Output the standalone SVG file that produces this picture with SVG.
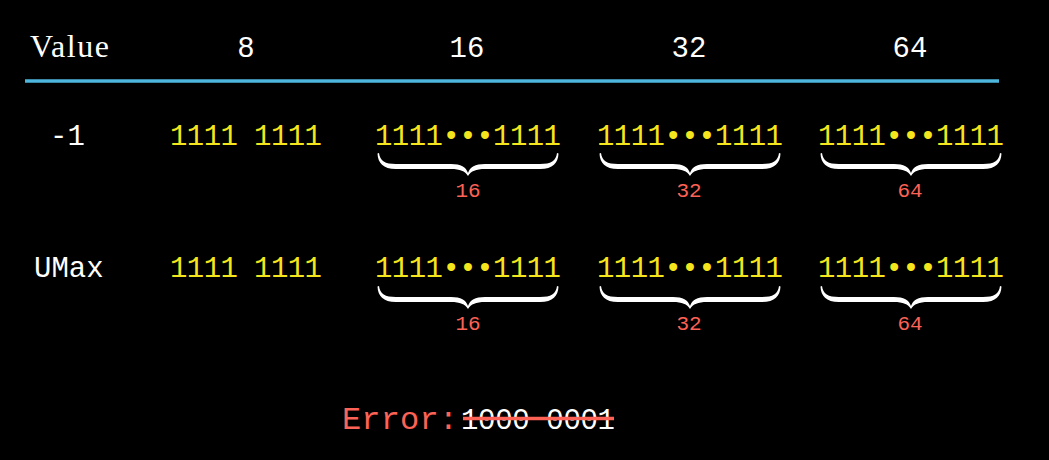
<svg xmlns="http://www.w3.org/2000/svg" xmlns:xlink="http://www.w3.org/1999/xlink" width="1049" height="460" viewBox="0 0 1049 460">
  <style>
    .serif { font-family: "Liberation Serif", "Times New Roman", serif; fill: #ffffff; }
    .mono { font-family: "Liberation Mono", "Courier New", monospace; }
    .head { font-size: 29px; fill: #ffffff; text-anchor: middle; }
    .label { font-size: 29px; fill: #ffffff; }
    .bits { font-size: 29px; fill: #f4e51c; text-anchor: middle; }
    .count { font-size: 21px; fill: #fc6255; text-anchor: middle; }
    .brace { fill: #ffffff; }
  </style>
  <defs>
    <path id="brace" d="M -89,0 C -88,8 -83,11 -72,11 L -17,11 C -7,11 -2,14 0,20 C 2,14 7,11 17,11 L 72,11 C 83,11 88,8 89,0 L 90.5,0.5 C 90,10 85,16 72,16 L 17,16 C 8,16 3,18 0,23 C -3,18 -8,16 -17,16 L -72,16 C -85,16 -90,10 -90.5,0.5 Z"/>
  </defs>
  <rect x="0" y="0" width="1049" height="460" fill="#000000"/>

  <g id="header">
    <text class="serif" x="30" y="57" font-size="32" textLength="79">Value</text>
    <text class="mono head" x="246" y="57">8</text>
    <text class="mono head" x="467" y="57">16</text>
    <text class="mono head" x="689" y="57">32</text>
    <text class="mono head" x="910" y="57">64</text>
  </g>

  <g id="connectors">
    <line x1="25" y1="81" x2="999" y2="81" stroke="#4db6dc" stroke-width="3.5"/>
  </g>

  <g id="row-minus1">
    <text class="mono label" x="50" y="145">-1</text>
    <text class="mono bits" x="246" y="145" textLength="152">1111 1111</text>
    <text class="mono bits" x="468" y="145" textLength="186">1111•••1111</text>
    <text class="mono bits" x="690" y="145" textLength="186">1111•••1111</text>
    <text class="mono bits" x="911" y="145" textLength="186">1111•••1111</text>
    <use xlink:href="#brace" class="brace" transform="translate(468,153)"/>
    <use xlink:href="#brace" class="brace" transform="translate(690,153)"/>
    <use xlink:href="#brace" class="brace" transform="translate(911,153)"/>
    <text class="mono count" x="468" y="197">16</text>
    <text class="mono count" x="689" y="197">32</text>
    <text class="mono count" x="910" y="197">64</text>
  </g>

  <g id="row-umax">
    <text class="mono label" x="34" y="277">UMax</text>
    <text class="mono bits" x="246" y="277" textLength="152">1111 1111</text>
    <text class="mono bits" x="468" y="277" textLength="186">1111•••1111</text>
    <text class="mono bits" x="690" y="277" textLength="186">1111•••1111</text>
    <text class="mono bits" x="911" y="277" textLength="186">1111•••1111</text>
    <use xlink:href="#brace" class="brace" transform="translate(468,286)"/>
    <use xlink:href="#brace" class="brace" transform="translate(690,286)"/>
    <use xlink:href="#brace" class="brace" transform="translate(911,286)"/>
    <text class="mono count" x="468" y="330">16</text>
    <text class="mono count" x="689" y="330">32</text>
    <text class="mono count" x="910" y="330">64</text>
  </g>

  <g id="error">
    <text class="mono" x="342" y="429" font-size="32" fill="#fc6255" textLength="116">Error:</text>
    <text class="mono" x="461" y="429" font-size="29" fill="#ffffff" textLength="154">1000 0001</text>
    <line x1="463" y1="418.5" x2="614" y2="418.5" stroke="#fc6255" stroke-width="3.5"/>
  </g>
</svg>
